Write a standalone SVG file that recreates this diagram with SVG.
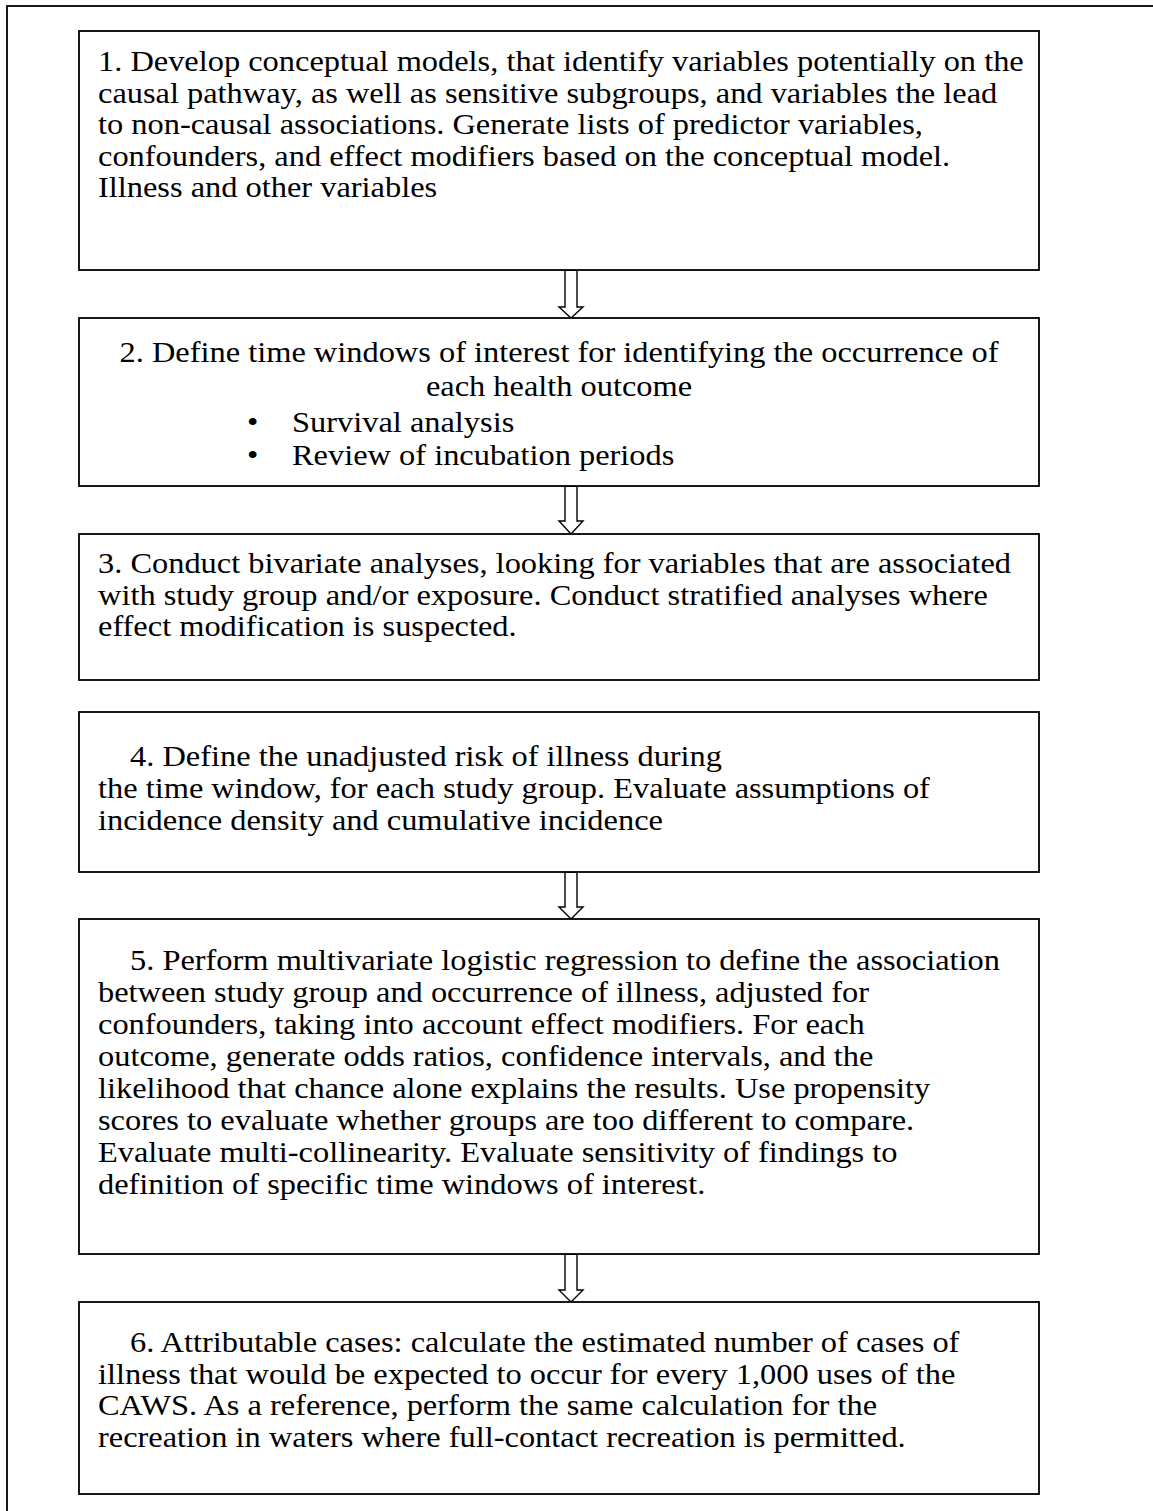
<svg xmlns="http://www.w3.org/2000/svg" width="1153" height="1511" viewBox="0 0 1153 1511">
<style>
.box{fill:#fff;stroke:#000;stroke-width:1.8}
.frame{fill:none;stroke:#000;stroke-width:1.8}
.t{font-family:"Liberation Serif","Times New Roman",serif;font-size:30px;fill:#000}
.c{text-anchor:middle}
.arr{fill:#fff;stroke:#000;stroke-width:1.4;stroke-linejoin:miter}
</style>
<rect width="1153" height="1511" fill="#fff"/>
<rect class="frame" x="7" y="6" width="1200" height="1600"/>
<g id="connectors">
<polygon class="arr" points="565,270 577,270 577,307 583,307 571,318 559,307 565,307"/>
<polygon class="arr" points="565,486 577,486 577,521 583,521 571,534 559,521 565,521"/>
<polygon class="arr" points="565,872 577,872 577,907 583,907 571,919 559,907 565,907"/>
<polygon class="arr" points="565,1254 577,1254 577,1290 583,1290 571,1302 559,1290 565,1290"/>
</g>
<g id="node1">
<rect class="box" x="79" y="31" width="960" height="239"/>
<text class="t" transform="matrix(1.08 0 0 1 98 71)">1. Develop conceptual models, that identify variables potentially on the</text>
<text class="t" transform="matrix(1.08 0 0 1 98 103)">causal pathway, as well as sensitive subgroups, and variables the lead</text>
<text class="t" transform="matrix(1.08 0 0 1 98 134)">to non-causal associations.  Generate lists of predictor variables,</text>
<text class="t" transform="matrix(1.08 0 0 1 98 166)">confounders, and effect modifiers based on the conceptual model.</text>
<text class="t" transform="matrix(1.08 0 0 1 98 197)">Illness and other variables</text>
</g>
<g id="node2">
<rect class="box" x="79" y="318" width="960" height="168"/>
<text class="t c" transform="matrix(1.08 0 0 1 559 362)">2. Define time windows of interest for identifying the occurrence of</text>
<text class="t c" transform="matrix(1.08 0 0 1 559 396)">each health outcome</text>
<text class="t" transform="matrix(1.08 0 0 1 247 432)">•</text>
<text class="t" transform="matrix(1.08 0 0 1 292 432)">Survival analysis</text>
<text class="t" transform="matrix(1.08 0 0 1 247 465)">•</text>
<text class="t" transform="matrix(1.08 0 0 1 292 465)">Review of incubation periods</text>
</g>
<g id="node3">
<rect class="box" x="79" y="534" width="960" height="146"/>
<text class="t" transform="matrix(1.08 0 0 1 98 573)">3. Conduct bivariate analyses, looking for variables that are associated</text>
<text class="t" transform="matrix(1.08 0 0 1 98 605)">with study group and/or exposure.  Conduct stratified analyses where</text>
<text class="t" transform="matrix(1.08 0 0 1 98 636)">effect modification is suspected.</text>
</g>
<g id="node4">
<rect class="box" x="79" y="712" width="960" height="160"/>
<text class="t" transform="matrix(1.08 0 0 1 130 766)">4. Define the unadjusted risk of illness during</text>
<text class="t" transform="matrix(1.08 0 0 1 98 798)">the time window, for each study group. Evaluate assumptions of</text>
<text class="t" transform="matrix(1.08 0 0 1 98 830)">incidence density and cumulative incidence</text>
</g>
<g id="node5">
<rect class="box" x="79" y="919" width="960" height="335"/>
<text class="t" transform="matrix(1.08 0 0 1 130 970)">5. Perform multivariate logistic regression to define the association</text>
<text class="t" transform="matrix(1.08 0 0 1 98 1002)">between study group and occurrence of illness, adjusted for</text>
<text class="t" transform="matrix(1.08 0 0 1 98 1034)">confounders, taking into account effect modifiers. For each</text>
<text class="t" transform="matrix(1.08 0 0 1 98 1066)">outcome, generate odds ratios, confidence intervals, and the</text>
<text class="t" transform="matrix(1.08 0 0 1 98 1098)">likelihood that chance alone explains the results.  Use propensity</text>
<text class="t" transform="matrix(1.08 0 0 1 98 1130)">scores to evaluate whether groups are too different to compare.</text>
<text class="t" transform="matrix(1.08 0 0 1 98 1162)">Evaluate multi-collinearity. Evaluate sensitivity of findings to</text>
<text class="t" transform="matrix(1.08 0 0 1 98 1194)">definition of specific time windows of interest.</text>
</g>
<g id="node6">
<rect class="box" x="79" y="1302" width="960" height="192"/>
<text class="t" transform="matrix(1.08 0 0 1 130 1352)">6. Attributable cases: calculate the estimated number of cases of</text>
<text class="t" transform="matrix(1.08 0 0 1 98 1384)">illness that would be expected to occur for every 1,000 uses of the</text>
<text class="t" transform="matrix(1.08 0 0 1 98 1415)">CAWS.  As a reference, perform the same calculation for the</text>
<text class="t" transform="matrix(1.08 0 0 1 98 1447)">recreation in waters where full-contact recreation is permitted.</text>
</g>
</svg>
